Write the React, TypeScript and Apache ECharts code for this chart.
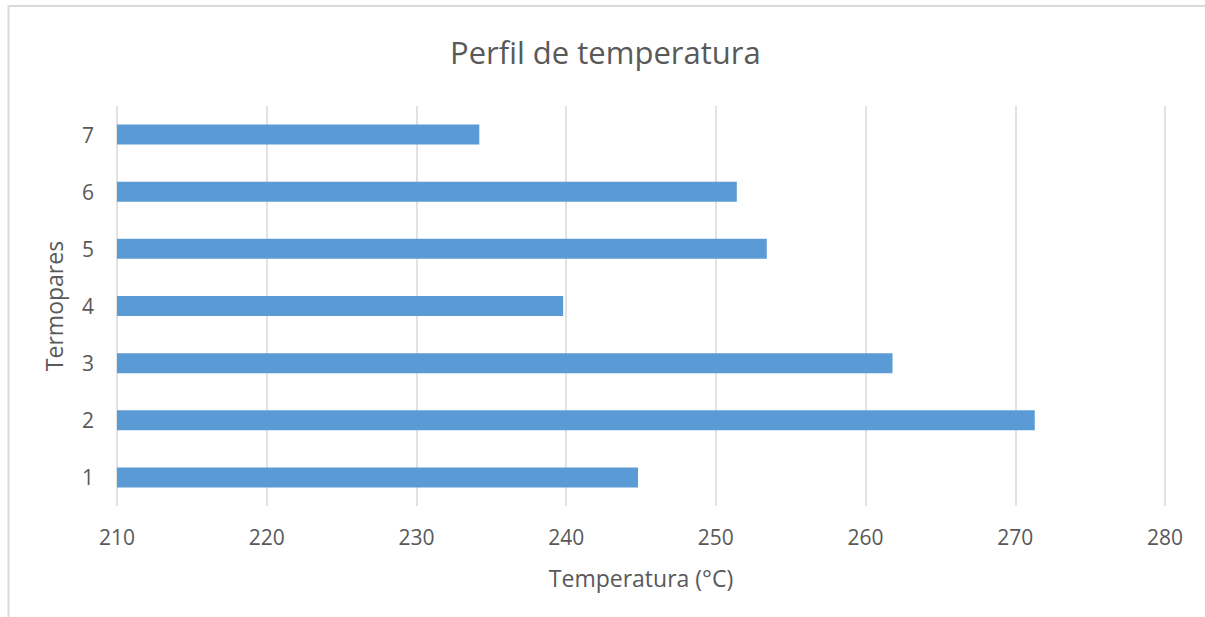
import React, { useEffect, useRef } from "react";
import * as echarts from "echarts";

const categories = ["1", "2", "3", "4", "5", "6", "7"];
const temperatures = [244.8, 271.3, 261.8, 239.8, 253.4, 251.4, 234.2];
const xTicks = [210, 220, 230, 240, 250, 260, 270, 280];

const FONT = "'Open Sans', 'Noto Sans', sans-serif";
const TEXT = "#595959";

export default function App() {
  const ref = useRef<HTMLDivElement>(null);
  useEffect(() => {
    if (!ref.current) return;
    const chart = echarts.init(ref.current, undefined, { renderer: "svg" });
    chart.setOption({
      animation: false,
      backgroundColor: "#ffffff",
      title: {
        text: "Perfil de temperatura",
        left: 445,
        top: 31,
        textStyle: { fontFamily: FONT, fontSize: 31, fontWeight: "normal", color: TEXT },
      },
      graphic: [
        {
          type: "rect",
          shape: { x: 8.5, y: 6, width: 1210, height: 620 },
          style: { fill: "none", stroke: "#D9D9D9", lineWidth: 2 },
          silent: true,
        },
      ],
      grid: { left: 117, right: 40, top: 106, bottom: 111, containLabel: false },
      xAxis: {
        type: "value",
        min: xTicks[0],
        max: xTicks[xTicks.length - 1],
        interval: 10,
        name: "Temperatura (°C)",
        nameLocation: "middle",
        nameGap: 60,
        nameTextStyle: { fontFamily: FONT, fontSize: 23, color: TEXT },
        axisLine: { show: false },
        axisTick: { show: false },
        axisLabel: { fontFamily: FONT, fontSize: 21, color: TEXT, margin: 20 },
        splitLine: { show: true, lineStyle: { color: "#D9D9D9", width: 1.5 } },
      },
      yAxis: {
        type: "category",
        data: categories,
        name: "Termopares",
        nameLocation: "middle",
        nameGap: 52,
        nameRotate: 90,
        nameTextStyle: { fontFamily: FONT, fontSize: 23, color: TEXT },
        axisLine: { show: false },
        axisTick: { show: false },
        axisLabel: { fontFamily: FONT, fontSize: 21, color: TEXT, margin: 23 },
        splitLine: { show: false },
      },
      series: [
        {
          type: "bar",
          data: temperatures,
          barWidth: 20,
          itemStyle: { color: "#5B9BD5" },
        },
      ],
    });
    return () => chart.dispose();
  }, []);
  return (
    <div
      ref={ref}
      style={{ position: "fixed", left: 0, top: 0, width: 1205, height: 617 }}
    />
  );
}
